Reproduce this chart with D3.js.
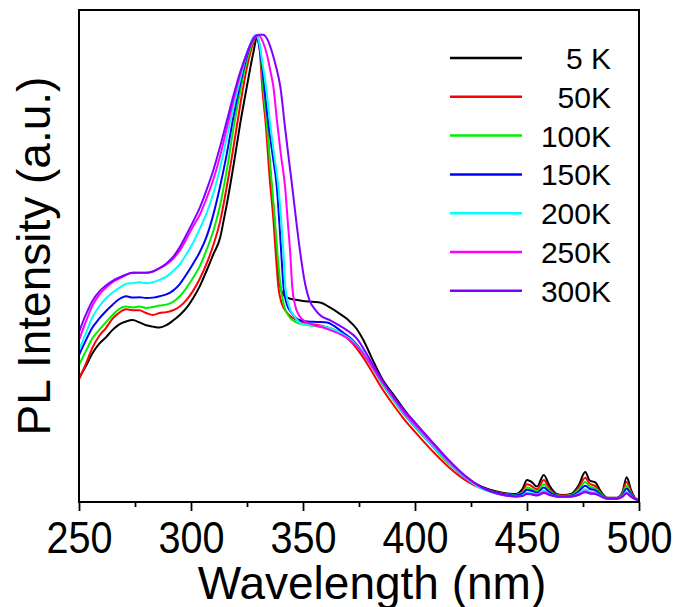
<!DOCTYPE html>
<html>
<head>
<meta charset="utf-8">
<script src="https://cdn.jsdelivr.net/npm/d3@7"></script>
<style>
  body { margin: 0; background: #fff; }
  svg { display: block; font-family: "Liberation Sans", Arial, sans-serif; }
</style>
</head>
<body>
<div id="chart"></div>
<script>
const width = 678;
const height = 607;

// x ticks (nm)
const majorTicks = [250, 300, 350, 400, 450, 500];
const minorTicks = [275, 325, 375, 425, 475];

const labels = ['5 K', '50K', '100K', '150K', '200K', '250K', '300K'];
const colors = ['#000000', '#ff0000', '#00ee00', '#0000ff', '#00ffff', '#ff00ff', '#8000ff'];

// [wavelength nm, normalised PL intensity]
const pl5K = [
  [250,0.265],[253,0.29],[256,0.318],[259,0.338],[262,0.352],[265,0.368],[268,0.38],[271,0.386],
  [274,0.389],[277,0.384],[280,0.378],[283,0.375],[286,0.373],[289,0.378],[292,0.388],[295,0.4],
  [298,0.415],[301,0.436],[304,0.462],[307,0.495],[310,0.53],[313,0.565],[314.5,0.6],[316.5,0.65],
  [319,0.72],[322,0.81],[325,0.89],[328,0.965],[329.5,0.995],[331,0.96],[332.3,0.887],[334,0.8],
  [335.5,0.7],[337.3,0.6],[338.5,0.52],[339.5,0.47],[341,0.445],[343,0.437],[346,0.433],[350,0.43],
  [354,0.428],[358,0.426],[362,0.416],[366,0.404],[370,0.39],[374,0.37],[377,0.346],[381,0.305],
  [386,0.258],[390,0.232],[394,0.205],[400,0.168],[408,0.125],[415,0.088],[423,0.052],[430,0.032],
  [438,0.021],[445,0.017],[448,0.028],[450,0.047],[452,0.043],[454.5,0.033],[457.5,0.058],[460,0.035],
  [463,0.018],[466,0.015],[470,0.018],[473,0.035],[476,0.064],[478,0.046],[480.5,0.042],[483,0.022],
  [486,0.009],[490,0.009],[492.5,0.02],[494.5,0.053],[496.5,0.025],[498,0.01],[500,0.004]
];
const pl50K = [
  [250,0.262],[253,0.295],[256,0.33],[259,0.355],[262,0.372],[265,0.392],[268,0.405],[271,0.412],
  [274,0.41],[277,0.41],[280,0.404],[283,0.4],[286,0.404],[289,0.406],[292,0.41],[295,0.418],
  [298,0.432],[301,0.452],[304,0.478],[307,0.51],[310,0.55],[313,0.6],[316,0.675],[319,0.76],
  [322,0.85],[325,0.93],[328,0.985],[329,0.997],[330.5,0.975],[331.8,0.887],[333.5,0.8],[335,0.7],
  [336.8,0.603],[338,0.52],[339,0.46],[340.5,0.425],[343,0.404],[346,0.392],[349,0.386],[354,0.38],
  [359,0.376],[364,0.368],[368,0.358],[372,0.34],[376,0.315],[380,0.285],[385,0.245],[390,0.21],
  [395,0.178],[400,0.15],[408,0.108],[415,0.075],[423,0.045],[430,0.028],[438,0.019],[445,0.015],
  [448,0.022],[450,0.038],[452,0.034],[454.5,0.027],[457.5,0.047],[460,0.028],[463,0.016],[466,0.014],
  [470,0.016],[473,0.03],[476,0.052],[478,0.039],[480.5,0.034],[483,0.019],[486,0.008],[490,0.008],
  [492.5,0.018],[494.5,0.043],[496.5,0.021],[498,0.009],[500,0.004]
];
const pl100K = [
  [250,0.293],[253,0.322],[256,0.35],[259,0.368],[262,0.384],[265,0.4],[268,0.413],[271,0.418],
  [274,0.416],[277,0.418],[280,0.415],[283,0.417],[286,0.42],[289,0.422],[292,0.428],[295,0.44],
  [298,0.458],[301,0.48],[304,0.505],[307,0.54],[310,0.58],[313,0.635],[316,0.71],[319,0.8],
  [322,0.88],[325,0.945],[328,0.99],[329.2,0.998],[330.7,0.975],[332.2,0.887],[334,0.8],[335.7,0.7],
  [337.5,0.6],[338.8,0.52],[340,0.46],[341.5,0.42],[344,0.395],[347,0.384],[351,0.379],[356,0.376],
  [361,0.373],[365,0.366],[369,0.356],[373,0.34],[377,0.316],[381,0.287],[385,0.255],[390,0.22],
  [395,0.188],[400,0.16],[408,0.118],[415,0.082],[423,0.05],[430,0.03],[438,0.019],[445,0.015],
  [448,0.02],[450,0.031],[452,0.028],[454.5,0.023],[457.5,0.038],[460,0.024],[463,0.015],[466,0.013],
  [470,0.015],[473,0.026],[476,0.043],[478,0.033],[480.5,0.029],[483,0.017],[486,0.008],[490,0.008],
  [492.5,0.016],[494.5,0.035],[496.5,0.018],[498,0.008],[500,0.004]
];
const pl150K = [
  [250,0.314],[253,0.345],[256,0.373],[259,0.392],[262,0.408],[265,0.422],[268,0.434],[271,0.44],
  [274,0.437],[277,0.438],[280,0.436],[283,0.437],[286,0.44],[289,0.444],[292,0.452],[295,0.466],
  [298,0.487],[301,0.51],[304,0.535],[307,0.568],[310,0.615],[313,0.675],[316,0.745],[319,0.825],
  [322,0.895],[325,0.955],[327.5,0.99],[328.7,0.998],[330,0.985],[331.5,0.94],[332.7,0.887],[334.5,0.81],
  [336.5,0.74],[338.3,0.674],[339.4,0.6],[340.3,0.532],[341.3,0.46],[343,0.42],[345,0.404],[348,0.39],
  [352,0.386],[356,0.385],[360.8,0.384],[364,0.376],[368,0.362],[372,0.347],[376,0.325],[380,0.296],
  [385,0.258],[390,0.223],[395,0.19],[400,0.162],[408,0.12],[415,0.084],[423,0.05],[430,0.03],
  [438,0.018],[445,0.014],[448,0.018],[450,0.026],[452,0.024],[454.5,0.02],[457.5,0.031],[460,0.021],
  [463,0.014],[466,0.012],[470,0.014],[473,0.022],[476,0.035],[478,0.028],[480.5,0.025],[483,0.015],
  [486,0.008],[490,0.008],[492.5,0.014],[494.5,0.029],[496.5,0.016],[498,0.008],[500,0.004]
];
const pl200K = [
  [250,0.325],[253,0.36],[256,0.395],[259,0.418],[262,0.435],[265,0.448],[268,0.458],[271,0.466],
  [274,0.468],[277,0.47],[280,0.468],[283,0.47],[286,0.475],[289,0.482],[292,0.494],[295,0.508],
  [298,0.53],[301,0.555],[304,0.585],[307,0.618],[310,0.66],[313,0.715],[316,0.78],[319,0.845],
  [322,0.905],[325,0.96],[327.5,0.99],[329,0.998],[330.3,0.985],[332,0.935],[333.5,0.887],[335.3,0.81],
  [337.2,0.74],[339,0.674],[340.3,0.6],[341.3,0.532],[342.1,0.46],[343.7,0.42],[346,0.398],[350,0.38],
  [355,0.377],[360,0.374],[364,0.368],[368,0.358],[372,0.345],[376,0.324],[380,0.296],[385,0.258],
  [390,0.222],[395,0.19],[400,0.162],[408,0.12],[415,0.084],[423,0.05],[430,0.028],[438,0.016],
  [445,0.012],[448,0.014],[450,0.02],[452,0.019],[454.5,0.016],[457.5,0.024],[460,0.017],[463,0.012],
  [466,0.011],[470,0.012],[473,0.018],[476,0.027],[478,0.022],[480.5,0.02],[483,0.013],[486,0.007],
  [490,0.007],[492.5,0.012],[494.5,0.022],[496.5,0.013],[498,0.007],[500,0.004]
];
const pl250K = [
  [250,0.346],[253,0.385],[256,0.42],[259,0.443],[262,0.458],[265,0.47],[268,0.478],[271,0.486],
  [274,0.49],[277,0.49],[280,0.49],[283,0.493],[286,0.5],[289,0.508],[292,0.52],[295,0.538],
  [298,0.563],[301,0.59],[304,0.615],[307,0.65],[310,0.69],[313,0.74],[316,0.8],[319,0.86],
  [322,0.915],[325,0.96],[328,0.99],[330,0.998],[332,0.985],[334,0.955],[335.5,0.92],[336.8,0.887],
  [338.5,0.81],[340.2,0.74],[342,0.674],[343.2,0.6],[344.3,0.532],[345.2,0.46],[346.5,0.42],[348.5,0.397],
  [351,0.386],[355,0.378],[359,0.373],[363,0.366],[367,0.358],[371,0.346],[375,0.328],[379,0.303],
  [383,0.274],[387,0.246],[391,0.218],[395,0.192],[400,0.165],[408,0.124],[415,0.087],[423,0.052],
  [430,0.03],[438,0.016],[445,0.012],[448,0.013],[450,0.018],[452,0.017],[454.5,0.015],[457.5,0.021],
  [460,0.016],[463,0.012],[466,0.011],[470,0.012],[473,0.016],[476,0.023],[478,0.019],[480.5,0.018],
  [483,0.012],[486,0.007],[490,0.007],[492.5,0.011],[494.5,0.019],[496.5,0.012],[498,0.007],[500,0.004]
];
const pl300K = [
  [250,0.363],[253,0.4],[256,0.43],[259,0.45],[262,0.463],[265,0.473],[268,0.48],[271,0.486],
  [274,0.49],[277,0.49],[280,0.49],[283,0.493],[286,0.5],[289,0.51],[292,0.524],[295,0.545],
  [298,0.572],[301,0.6],[304,0.63],[307,0.668],[310,0.71],[313,0.76],[316,0.815],[319,0.87],
  [322,0.92],[325,0.96],[327.8,0.99],[330,0.999],[332.3,0.999],[334,0.99],[336,0.965],[338,0.93],
  [339.9,0.887],[342,0.8],[343.5,0.74],[345.2,0.674],[347,0.6],[348.8,0.532],[351,0.465],[353,0.43],
  [355.5,0.411],[358,0.398],[362,0.389],[366,0.378],[370,0.366],[374,0.35],[378,0.32],[382,0.287],
  [386,0.256],[390,0.228],[395,0.197],[400,0.17],[408,0.127],[415,0.09],[423,0.054],[430,0.031],
  [438,0.017],[445,0.012],[448,0.013],[450,0.017],[452,0.016],[454.5,0.014],[457.5,0.019],[460,0.015],
  [463,0.012],[466,0.011],[470,0.012],[473,0.015],[476,0.021],[478,0.018],[480.5,0.017],[483,0.012],
  [486,0.007],[490,0.007],[492.5,0.011],[494.5,0.018],[496.5,0.011],[498,0.007],[500,0.004]
];

const series = [pl5K, pl50K, pl100K, pl150K, pl200K, pl250K, pl300K];

const box = {left: 79, right: 639, top: 10, bottom: 502};

const x = d3.scaleLinear().domain([250, 500]).range([box.left, box.right]);
const y = d3.scaleLinear().domain([0, 1.052]).range([box.bottom, box.top]);

const svg = d3.select('#chart').append('svg')
  .attr('width', width)
  .attr('height', height);

const line = d3.line()
  .x(d => x(d[0]))
  .y(d => y(d[1]))
  .curve(d3.curveMonotoneX);

svg.append('clipPath').attr('id', 'clip')
  .append('rect')
  .attr('x', box.left).attr('y', box.top)
  .attr('width', box.right - box.left).attr('height', box.bottom - box.top);

svg.append('g')
  .attr('clip-path', 'url(#clip)')
  .selectAll('path')
  .data(series)
  .join('path')
    .attr('d', line)
    .attr('fill', 'none')
    .attr('stroke', (d, i) => colors[i])
    .attr('stroke-width', 2)
    .attr('stroke-linejoin', 'round');

// frame
svg.append('rect')
  .attr('x', box.left).attr('y', box.top)
  .attr('width', box.right - box.left).attr('height', box.bottom - box.top)
  .attr('fill', 'none')
  .attr('stroke', '#000')
  .attr('stroke-width', 2);

const xAxis = svg.append('g')
  .attr('transform', `translate(0,${box.bottom})`)
  .call(d3.axisBottom(x).tickValues(majorTicks).tickSize(9).tickPadding(11).tickFormat(d3.format('d')));

xAxis.select('.domain').remove();
xAxis.selectAll('line').attr('stroke-width', 1.8);
// the original digits are a touch narrower than Liberation Sans
xAxis.selectAll('text')
  .attr('font-size', 44)
  .attr('fill', '#000')
  .attr('transform', 'scale(0.9,1)')
  .style('font-family', '"Liberation Sans", Arial, sans-serif');

const xMinor = svg.append('g')
  .attr('transform', `translate(0,${box.bottom})`)
  .call(d3.axisBottom(x).tickValues(minorTicks).tickSize(5).tickFormat(''));
xMinor.select('.domain').remove();
xMinor.selectAll('line').attr('stroke-width', 1.8);

svg.append('text')
  .attr('x', 372)
  .attr('y', 599)
  .attr('text-anchor', 'middle')
  .attr('font-size', 46)
  .text('Wavelength (nm)');

svg.append('text')
  .attr('transform', `translate(50,${(box.top + box.bottom) / 2}) rotate(-90)`)
  .attr('text-anchor', 'middle')
  .attr('font-size', 46)
  .text('PL Intensity (a.u.)');

// legend
const legend = svg.append('g')
  .selectAll('g')
  .data(labels)
  .join('g')
    .attr('transform', (d, i) => `translate(0,${58 + i * 38.8})`);

legend.append('line')
  .attr('x1', 450).attr('x2', 522)
  .attr('stroke', (d, i) => colors[i])
  .attr('stroke-width', 2.5);

legend.append('text')
  .attr('x', 611)
  .attr('y', 11)
  .attr('text-anchor', 'end')
  .attr('font-size', 30)
  .text(d => d);
</script>
</body>
</html>
